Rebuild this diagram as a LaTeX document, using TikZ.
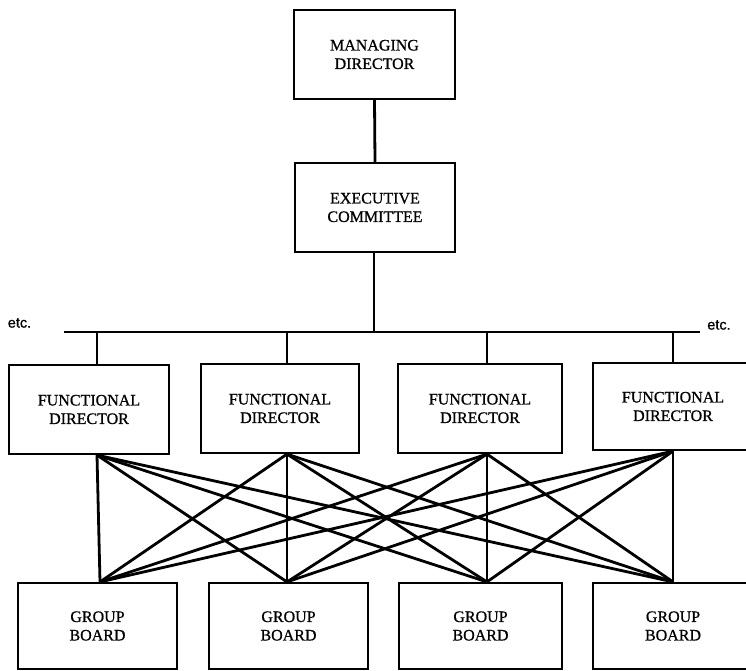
\documentclass[tikz,border=0pt]{standalone}
\usepackage{fontspec}
\setmainfont{Liberation Serif}
\newfontfamily\scanfont{Liberation Serif}[FakeBold=0.7]
\newfontfamily\etcfont{Liberation Sans}[FakeBold=0.8]
\begin{document}
\begin{tikzpicture}[x=1pt,y=-1pt,
  box/.style={draw,line width=2.2pt,inner sep=0pt,align=center,font=\scanfont\fontsize{16}{18.5}\selectfont},
  link/.style={line width=2.8pt},
  etclabel/.style={font=\etcfont\fontsize{14.5}{15}\selectfont,inner sep=0pt}]
\useasboundingbox (0,0) rectangle (746,670);
% top
\node[box,minimum width=161pt,minimum height=89pt] (md) at (374.5,54.5) {MANAGING\\DIRECTOR};
\node[box,minimum width=160pt,minimum height=89pt] (ec) at (375,207.5) {EXECUTIVE\\COMMITTEE};
% functional directors
\node[box,minimum width=160pt,minimum height=89pt] (fd1) at (89,409.5) {FUNCTIONAL\\DIRECTOR};
\node[box,minimum width=158pt,minimum height=89pt] (fd2) at (280,408.5) {FUNCTIONAL\\DIRECTOR};
\node[box,minimum width=164pt,minimum height=89pt] (fd3) at (480,408.5) {FUNCTIONAL\\DIRECTOR};
\node[box,minimum width=160pt,minimum height=87pt] (fd4) at (673,406.5) {FUNCTIONAL\\DIRECTOR};
% group boards
\node[box,minimum width=159pt,minimum height=86pt] (gb1) at (97.5,626) {GROUP\\BOARD};
\node[box,minimum width=159pt,minimum height=86pt] (gb2) at (288.5,626) {GROUP\\BOARD};
\node[box,minimum width=163pt,minimum height=86pt] (gb3) at (480.5,626) {GROUP\\BOARD};
\node[box,minimum width=160pt,minimum height=86pt] (gb4) at (673,626) {GROUP\\BOARD};
% etc labels
\node[etclabel] (etcL) at (19.5,323) {etc.};
\node[etclabel] (etcR) at (719,325) {etc.};
% bus
\coordinate (busL) at (64,332);
\coordinate (busR) at (700,332);
\draw[link] (busL) -- (busR);
\draw[link] (md.south) -- (ec.north);
\draw[link] ([xshift=-1pt]ec.south) -- ([xshift=-1pt]ec.south |- busL);
% connection points
\coordinate (fd1t) at ([xshift=8pt]fd1.north);
\coordinate (fd2t) at ([xshift=7pt]fd2.north);
\coordinate (fd3t) at ([xshift=7pt]fd3.north);
\coordinate (fd4t) at (fd4.north);
\coordinate (fd1b) at ([xshift=8pt]fd1.south);
\coordinate (fd2b) at ([xshift=7pt]fd2.south);
\coordinate (fd3b) at ([xshift=7pt]fd3.south);
\coordinate (fd4b) at (fd4.south);
\coordinate (gb1t) at ([xshift=2.5pt]gb1.north);
\coordinate (gb2t) at ([xshift=-1.5pt]gb2.north);
\coordinate (gb3t) at ([xshift=6.5pt]gb3.north);
\coordinate (gb4t) at (gb4.north);
\foreach \a in {1,2,3,4} {
  \draw[link] (fd\a t) -- (fd\a t |- busL);
  \foreach \b in {1,2,3,4} {
    \draw[link] (fd\a b) -- (gb\b t);
  }
}
\end{tikzpicture}
\end{document}
